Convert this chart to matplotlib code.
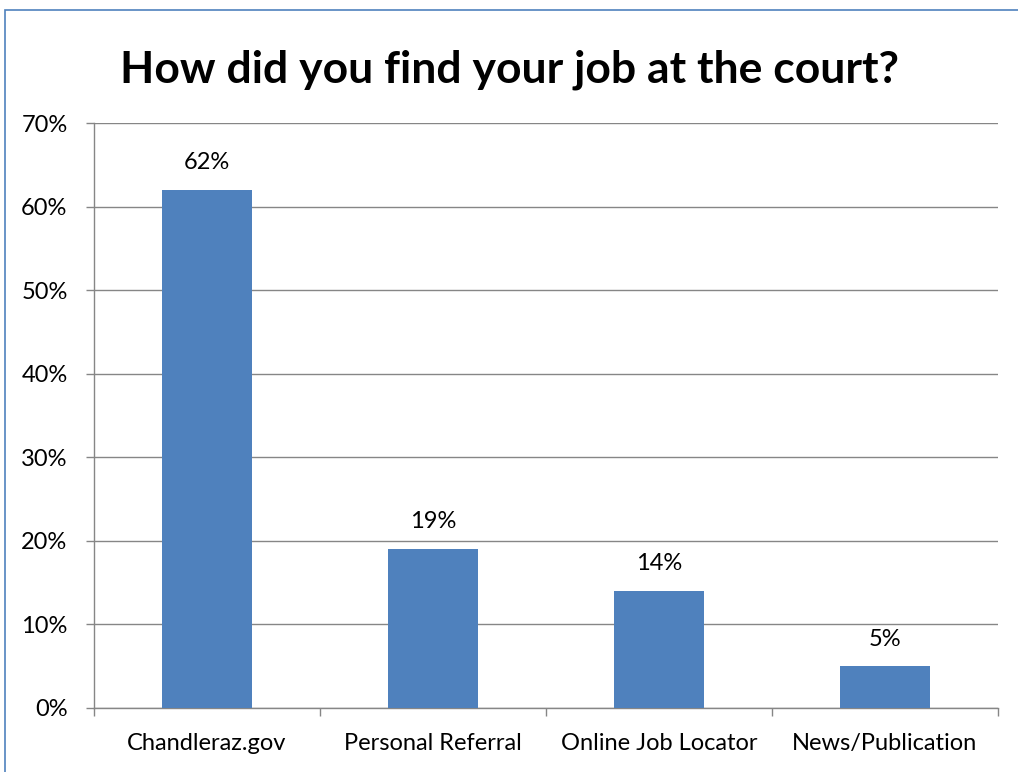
import matplotlib
matplotlib.use("Agg")
import matplotlib.pyplot as plt
from matplotlib.patches import Rectangle
import numpy as np

categories = ["Chandleraz.gov", "Personal Referral", "Online Job Locator", "News/Publication"]
shares = [0.62, 0.19, 0.14, 0.05]
y_ticks = [0.0, 0.1, 0.2, 0.3, 0.4, 0.5, 0.6, 0.7]

plt.rcParams["font.family"] = ["Lato", "DejaVu Sans"]

W, H = 1018, 772
fig = plt.figure(figsize=(W / 100, H / 100), dpi=100)

# outer chart border (cropped at right and bottom)
fig.patches.append(Rectangle((5 / W, -0.1), 1.2, (H - 10) / H + 0.1, transform=fig.transFigure,
                             fill=False, edgecolor="#4F81BD", linewidth=1.2))

ax = fig.add_axes([94 / W, 1 - 708 / H, (998 - 94) / W, (708 - 123) / H])
x = np.arange(len(categories))
ax.bar(x, shares, width=0.4, color="#4F81BD", zorder=3)
ax.set_xlim(-0.5, len(categories) - 0.5)
ax.set_ylim(0, 0.7)

ax.set_yticks(y_ticks)
ax.set_yticklabels([f"{int(round(v * 100))}%" for v in y_ticks], fontsize=17)
ax.grid(axis="y", color="#868686", linewidth=1.0, zorder=0)
ax.set_axisbelow(True)

ax.set_xticks(np.arange(-0.5, len(categories), 1.0))
ax.set_xticklabels([])
ax.set_xticks(x, minor=True)
ax.set_xticklabels(categories, minor=True, fontsize=17)
ax.tick_params(axis="x", which="major", length=6, color="#868686", width=1.0)
ax.tick_params(axis="x", which="minor", length=0, pad=18)
ax.tick_params(axis="y", length=6, color="#868686", width=1.0, pad=13)

for side in ["top", "right"]:
    ax.spines[side].set_visible(False)
for side in ["left", "bottom"]:
    ax.spines[side].set_color("#868686")
    ax.spines[side].set_linewidth(1.0)

for xi, v in zip(x, shares):
    ax.text(xi, v + 0.02, f"{int(round(v * 100))}%", ha="center", va="bottom", fontsize=17)

fig.text(0.5, 1 - 70 / H, "How did you find your job at the court?", ha="center", va="center",
         fontsize=32, fontweight="bold")

fig.savefig("out.png", dpi=100)
